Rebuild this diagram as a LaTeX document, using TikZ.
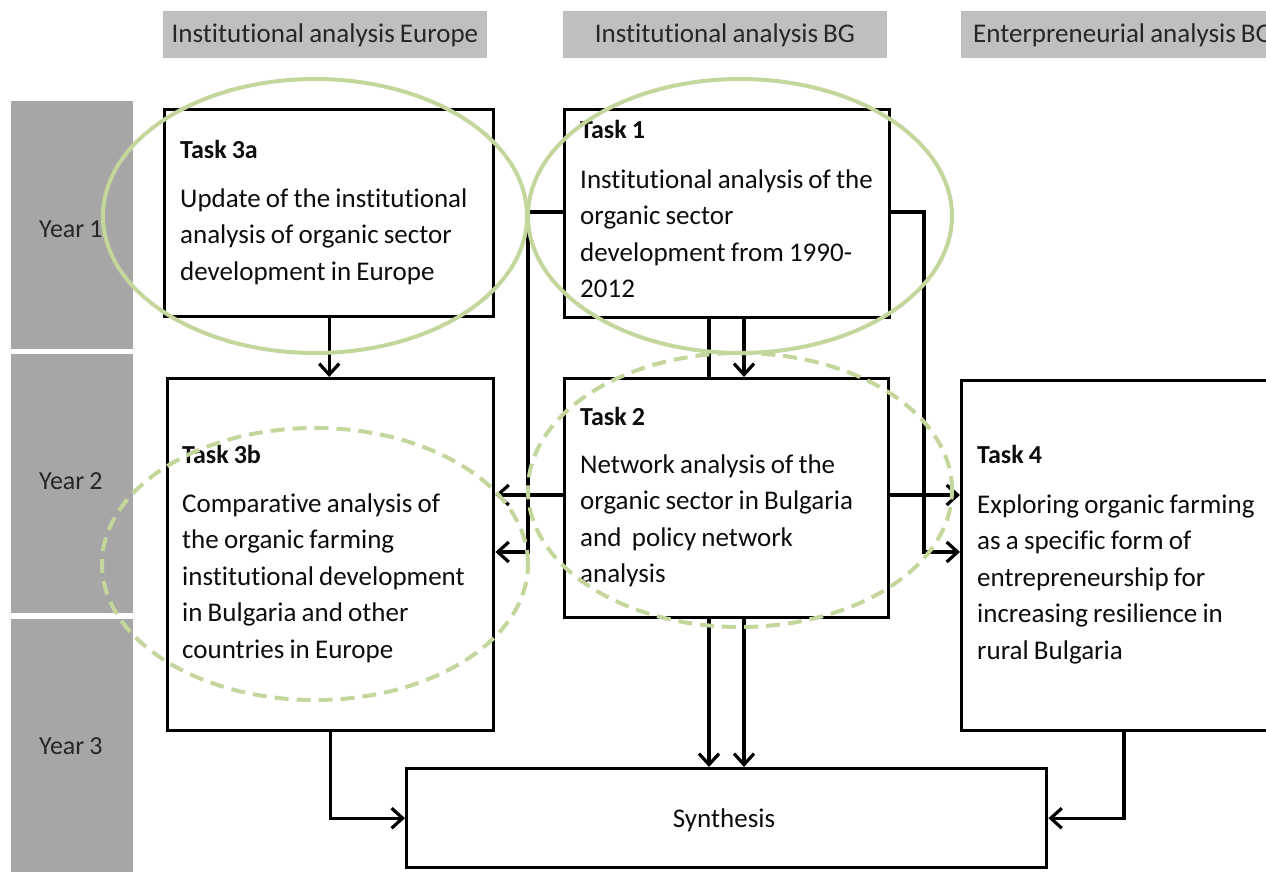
\documentclass[tikz,border=0pt]{standalone}
\usepackage{fontspec}
\setmainfont{Carlito}[RawFeature=-liga, WordSpace=0.85]
\usetikzlibrary{arrows.meta}
\definecolor{hdrgray}{HTML}{BFBFBF}
\definecolor{yeargray}{HTML}{A6A6A6}
\definecolor{ovgreen}{HTML}{C3D69B}
\definecolor{txt}{HTML}{0D0D0D}
\definecolor{hdrtxt}{HTML}{262626}
\begin{document}
\begin{tikzpicture}[x=1pt,y=-1pt,
  hdr/.style={fill=hdrgray, draw=none, inner sep=0pt, anchor=north west, minimum height=47pt},
  hdrlabel/.style={font=\fontsize{27}{30}\selectfont, text=hdrtxt, inner sep=0pt},
  yr/.style={fill=yeargray, draw=none, inner sep=0pt, anchor=north west, minimum width=122pt},
  yrlabel/.style={font=\fontsize{26}{30}\selectfont, text=hdrtxt, inner sep=0pt, anchor=base west},
  taskbox/.style={draw=black, line width=3.4pt, fill=white, inner sep=0pt, anchor=north west},
  head/.style={font=\bfseries\fontsize{26}{30}\selectfont, text=txt, inner sep=0pt, anchor=base west},
  body/.style={font=\fontsize{27}{36.6}\selectfont, text=txt, inner sep=0pt, anchor=base west, text width=340pt, align=flush left},
  conn/.style={draw=black, line width=3.2pt},
  arr/.style={conn, -{Straight Barb[length=11pt,width=20pt]}},
  solidell/.style={draw=ovgreen, line width=4pt},
  dashell/.style={draw=ovgreen, line width=4pt, dash pattern=on 14pt off 8pt}
]
\useasboundingbox (0,0) rectangle (1266,872);

% column headers
\node[hdr, minimum width=324pt] (h1) at (163,11) {};
\node[hdr, minimum width=324pt] (h2) at (563,11) {};
\node[hdr, minimum width=340pt] (h3) at (961,11) {};
\node[hdrlabel, anchor=base] (h1t) at (325,43) {Institutional analysis Europe};
\node[hdrlabel, anchor=base] (h2t) at (725,43) {Institutional analysis BG};
\node[hdrlabel, anchor=base west] (h3t) at (973,43) {Enterpreneurial analysis BG};

% year column
\node[yr, minimum height=248pt] (y1) at (11,101) {};
\node[yr, minimum height=259pt] (y2) at (11,354) {};
\node[yr, minimum height=260pt] (y3) at (11,619) {};
\node[yrlabel] (y1t) at (39,237) {Year 1};
\node[yrlabel] (y2t) at (39,489) {Year 2};
\node[yrlabel] (y3t) at (39,754) {Year 3};

% task boxes
\node[taskbox, minimum width=329pt, minimum height=207pt] (t3a) at (163,108) {};
\node[taskbox, minimum width=325pt, minimum height=208pt] (t1) at (563,108) {};
\node[taskbox, minimum width=326pt, minimum height=352pt] (t3b) at (166,377) {};
\node[taskbox, minimum width=324pt, minimum height=239pt] (t2) at (563,377) {};
\node[taskbox, minimum width=440pt, minimum height=350pt] (t4) at (960,379) {};
\node[taskbox, minimum width=640pt, minimum height=99pt] (syn) at (405,767) {};

% texts
\node[head] (t3ah) at (180,158) {Task 3a};
\node[body] (t3ab) at (180,207) {Update of the institutional\\analysis of organic sector\\development in Europe};
\node[head] (t1h) at (580,139) {Task 1};
\node[body] (t1b) at (580,188) {Institutional analysis of the\\organic sector\\development from 1990-\\2012};
\node[head] (t2h) at (580,425) {Task 2};
\node[body] (t2b) at (580,473) {Network analysis of the\\organic sector in Bulgaria\\and\ \ policy network\\analysis};
\node[head] (t3bh) at (182,463) {Task 3b};
\node[body] (t3bb) at (182,512) {Comparative analysis of\\the organic farming\\institutional development\\in Bulgaria and other\\countries in Europe};
\node[head] (t4h) at (977,463) {Task 4};
\node[body] (t4b) at (977,513) {Exploring organic farming\\as a specific form of\\entrepreneurship for\\increasing resilience in\\rural Bulgaria};
\node[font=\fontsize{27}{30}\selectfont, text=txt, inner sep=0pt, anchor=base] (synt) at (724,827) {Synthesis};

% helper coordinates
\coordinate (y212) at (0,212);
\coordinate (y495) at (0,495);
\coordinate (y552) at (0,552);
\coordinate (x709) at (709,0);
\coordinate (x744) at (744,0);
\coordinate (x1124) at (1124,0);
\coordinate (lbend) at (528,552);
\coordinate (rbend) at (924,552);

% connectors
\draw[arr] (t3a.south) -- (t3a.south |- t3b.north);
\draw[conn] (t1.south -| x709) -- (t2.north -| x709);
\draw[arr] (t1.south -| x744) -- (t2.north -| x744);
\draw[arr] (t2.south -| x709) -- (syn.north -| x709);
\draw[arr] (t2.south -| x744) -- (syn.north -| x744);
\draw[arr] (t1.west |- y212) -| (lbend) -- (t3b.east |- y552);
\draw[arr] (t2.west |- y495) -- (t3b.east |- y495);
\draw[arr] (t1.east |- y212) -| (rbend) -- (t4.west |- y552);
\draw[arr] (t2.east |- y495) -- (t4.west |- y495);
\draw[arr] (t3b.south) |- (syn.west);
\draw[arr] (t4.south -| x1124) |- (syn.east);

% highlight ellipses
\draw[solidell] (315,216) ellipse [x radius=212pt, y radius=137pt];
\draw[solidell] (740,216) ellipse [x radius=212pt, y radius=137pt];
\draw[dashell] (740,490) ellipse [x radius=212pt, y radius=137pt];
\draw[dashell] (315,564) ellipse [x radius=213pt, y radius=136pt];
\end{tikzpicture}
\end{document}
